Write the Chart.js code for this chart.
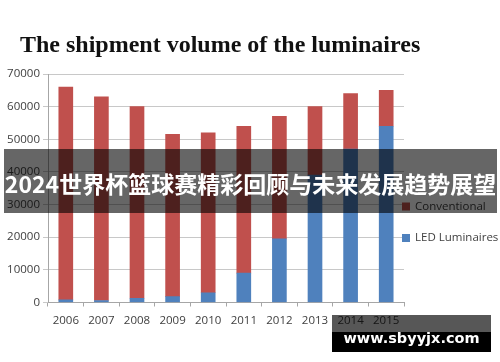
<!DOCTYPE html>
<html>
<head>
<meta charset="utf-8">
<script src="https://cdn.jsdelivr.net/npm/chart.js@4/dist/chart.umd.min.js"></script>
<style>
  html, body { margin: 0; padding: 0; background: #fff; }
  #wrap { position: relative; width: 500px; height: 362px; overflow: hidden; }
  #chart { position: absolute; left: 0; top: 0; }
  .title {
    position: absolute; left: 20px; top: 31.5px;
    font: bold 24px "Liberation Serif", serif; line-height: 24px;
    color: #111; white-space: nowrap;
  }
  .banner {
    position: absolute; left: 4px; top: 149px; width: 493px; height: 64px;
    background: rgba(0, 0, 0, 0.6);
  }
  .banner span {
    position: absolute; left: -10px; right: -10px; top: 22.5px; height: 23px;
    font: bold 23px "Noto Sans CJK SC", sans-serif; line-height: 23px;
    color: #fff; text-align: center; white-space: nowrap;
  }
  .site-top { position: absolute; left: 332px; top: 315px; width: 159px; height: 17px; background: rgba(0, 0, 0, 0.66); }
  .site {
    position: absolute; left: 332px; top: 332px; width: 159px; height: 20px;
    background: #000;
  }
  .site span {
    position: absolute; left: 0; right: 0; top: -2px;
    font: bold 14.5px "DejaVu Sans", sans-serif; line-height: 16px;
    color: #fff; text-align: center; white-space: nowrap;
  }
</style>
</head>
<body>
<div id="wrap">
  <canvas id="chart" width="500" height="362"></canvas>
  <div class="title">The shipment volume of the luminaires</div>
  <div class="banner"><span>2024世界杯篮球赛精彩回顾与未来发展趋势展望</span></div>
  <div class="site-top"></div>
  <div class="site"><span>www.sbyyjx.com</span></div>
</div>
<script>
const years = ['2006', '2007', '2008', '2009', '2010', '2011', '2012', '2013', '2014', '2015']
const ledLuminaires = [800, 600, 1300, 1800, 3000, 9000, 19500, 39000, 47000, 54000]
const conventional = [65200, 62400, 58700, 49700, 49000, 45000, 37500, 21000, 17000, 11000]
const yTicks = [0, 10000, 20000, 30000, 40000, 50000, 60000, 70000]

// legend on the right, Conventional listed first
const sideLegend = {
  id: 'sideLegend',
  afterDraw(chart) {
    const ctx = chart.ctx
    const items = chart.data.datasets.slice().reverse()
    ctx.save()
    ctx.font = '11.5px "Open Sans"'
    ctx.textBaseline = 'middle'
    items.forEach((ds, i) => {
      const y = 206.5 + i * 31.5
      ctx.fillStyle = ds.backgroundColor
      ctx.fillRect(402, y - 4, 8, 8)
      ctx.fillStyle = '#404040'
      ctx.fillText(ds.label, 415, y)
    })
    ctx.restore()
  }
}

new Chart(document.getElementById('chart'), {
  type: 'bar',
  data: {
    labels: years,
    datasets: [{
      label: 'LED Luminaires',
      data: ledLuminaires,
      backgroundColor: '#4F81BD'
    }, {
      label: 'Conventional',
      data: conventional,
      backgroundColor: '#C0504D'
    }]
  },
  options: {
    responsive: false,
    animation: false,
    layout: {
      padding: { top: 74, right: 96, bottom: 0, left: 0 }
    },
    datasets: {
      bar: { barThickness: 14 }
    },
    plugins: {
      legend: { display: false },
      tooltip: { enabled: false }
    },
    scales: {
      x: {
        stacked: true,
        grid: {
          drawOnChartArea: false,
          tickLength: 4,
          color: '#a6a6a6'
        },
        border: { color: '#a6a6a6' },
        ticks: {
          padding: 7,
          color: '#404040',
          font: { family: 'Open Sans', size: 11.5 }
        },
        afterFit: (s) => { s.height = 59.5 }
      },
      y: {
        stacked: true,
        min: 0,
        max: 70000,
        afterBuildTicks: (s) => { s.ticks = yTicks.map(v => ({ value: v })) },
        grid: {
          color: '#c8c8c8',
          tickLength: 5
        },
        border: { color: '#a6a6a6' },
        ticks: {
          padding: 3,
          color: '#404040',
          font: { family: 'Open Sans', size: 11.5 },
          callback: (v) => String(v)
        },
        afterFit: (s) => { s.width = 48 }
      }
    }
  },
  plugins: [sideLegend]
})
</script>
</body>
</html>
